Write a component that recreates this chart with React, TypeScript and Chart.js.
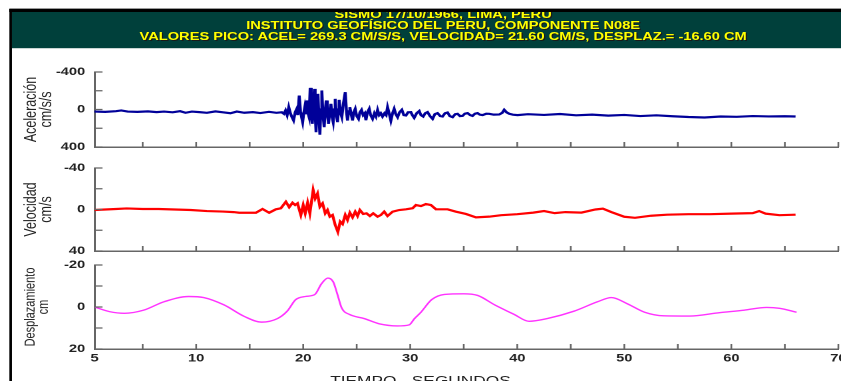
import React, { useEffect, useRef } from 'react';
import { Chart, registerables } from 'chart.js';

Chart.register(...registerables);

// ---------- text ----------
const HEADER_LINES = [
  'SISMO 17/10/1966, LIMA, PERU',
  'INSTITUTO GEOFÍSICO DEL PERU, COMPONENTE N08E',
  'VALORES PICO: ACEL= 269.3 CM/S/S, VELOCIDAD= 21.60 CM/S, DESPLAZ.= -16.60 CM',
];
const X_TITLE = 'TIEMPO - SEGUNDOS';
const ACC_TITLE = ['Aceleración', 'cm/s/s'];
const VEL_TITLE = ['Velocidad', 'cm/s'];
const DISP_TITLE = ['Desplazamiento', 'cm'];

// ---------- axes ----------
const X_MIN = 0.5;
const X_MAX = 70;
const X_TICK_VALUES = [0.5, 10, 20, 30, 40, 50, 60, 70];
const X_TICK_LABELS = ['5', '10', '20', '30', '40', '50', '60', '70'];
const X_MARKS = [5, 10, 15, 20, 25, 30, 35, 40, 45, 50, 55, 60, 65, 70];

const ACC_LABELS = [-400, 0, 400];
const ACC_MARKS = [-400, -200, 0, 200, 400];
const VEL_LABELS = [-40, 0, 40];
const VEL_MARKS = [-40, -20, 0, 20, 40];
const DISP_LABELS = [-20, 0, 20];
const DISP_MARKS = [-20, -10, 0, 10, 20];

// ---------- data (time in s) ----------
const accT = [
  0.5, 1.5, 2.5, 3.0, 3.6, 4.5, 5.5, 6.3, 7.0, 7.8, 8.5, 9.0, 9.6, 10.3, 11.0, 11.8, 12.5, 13.2, 13.8, 14.5,
  15.3, 16.0, 16.8, 17.5, 18.0,
  18.2, 18.35, 18.5, 18.65, 18.8, 18.95, 19.1, 19.25, 19.4, 19.5, 19.63, 19.75, 19.85, 19.95, 20.05, 20.15,
  20.25, 20.35, 20.45, 20.55, 20.65, 20.75, 20.85, 20.95, 21.05, 21.12, 21.2, 21.3, 21.38, 21.47, 21.56,
  21.65, 21.74, 21.85, 21.96, 22.05, 22.15, 22.25, 22.37, 22.48, 22.59, 22.7, 22.8, 22.9, 22.99, 23.1,
  23.21, 23.3, 23.36, 23.5, 23.61, 23.75, 23.93, 24.05, 24.14, 24.25, 24.36, 24.5, 24.61, 24.72, 24.86,
  25.0, 25.17, 25.3, 25.45, 25.6, 25.75, 25.86, 26.0,
  26.17, 26.3, 26.48, 26.65, 26.8, 26.95, 27.1, 27.25, 27.41, 27.6, 27.75, 27.88, 28.05, 28.19, 28.35,
  28.5, 28.65, 28.82, 29.0, 29.22, 29.4, 29.6, 29.8, 30.06, 30.2, 30.37, 30.6, 30.84, 31.0, 31.21, 31.4,
  31.62, 31.85, 32.09, 32.3, 32.55, 32.8, 33.02, 33.25, 33.49, 33.7, 33.96, 34.2, 34.42, 34.65, 34.89,
  35.1, 35.36, 35.6, 35.82, 36.05, 36.29, 36.5, 36.76, 37.1, 37.38, 37.8, 38.32, 38.6, 38.78, 39.0, 39.25,
  39.6, 40.03,
  41.0, 42.5, 44.0, 45.5, 47.0, 48.5, 50.0, 51.5, 53.0, 54.5, 56.0, 57.5, 59.0, 60.5, 62.0, 63.5, 65.0, 66.0,
];
const accV = [
  22, 25, 18, 10, 22, 25, 20, 28, 22, 30, 18, 35, 22, 28, 35, 20, 30, 40, 22, 35,
  28, 38, 25, 35, 30,
  46, 10, 60, -25, 40, 82, 117, 30, -7, 60, -149, 20, 82, 135, 40, -25,
  50, -96, 40, 82, -231, 20, 153, -60, -220, 50, 242, -40, -167, 80, 269,
  0, -203, 60, 189, 30, -96, 40, 153, 20, -60, 80, 135, 0, -114, 60,
  135, 0, -103, 40, 82, -60, -185, 30, 117, 20, -25, 60, 117, 30, -7,
  70, 100, 30, 5, 60, 40, 115, 30,
  -7, 60, 100, 40, 75, 3, 60, 40, 75, 40, 60, -25, 50, 120, 40,
  -7, 50, 82, 30, 3, 60, 64, 30, 28, 60, 89, 40, 17, 60, 75, 40,
  28, 70, 100, 50, 39, 70, 75, 40, 32, 70, 82, 50, 46, 70, 68,
  45, 39, 60, 68, 45, 39, 55, 60, 45, 46, 55, 53, 35, 3, 30, 46,
  55, 60,
  50, 58, 48, 62, 55, 65, 58, 70, 62, 72, 80, 85, 75, 78, 70, 74, 72, 75,
];

const velT = [
  0.5, 1.5, 2.5, 3.5, 5.0, 6.5, 8.0, 9.5, 11.0, 12.5, 13.5, 14.02, 15.58, 16.2, 16.82, 17.45, 17.91, 18.38,
  18.69, 19.0, 19.25, 19.47, 19.78, 20.0, 20.19, 20.41, 20.62, 20.93, 21.12, 21.34, 21.56, 21.81, 22.06,
  22.27, 22.49, 22.74, 22.99, 23.24, 23.46, 23.68, 23.93, 24.14, 24.36, 24.61, 24.86, 25.08, 25.3, 25.61,
  25.92, 26.23, 26.54, 26.95, 27.26, 27.57, 27.88, 28.35, 28.97, 29.6, 30.22, 30.53, 31.0, 31.46, 31.93,
  32.4, 32.87, 33.49, 34.27, 35.2, 36.14, 37.38, 38.5, 40.0, 41.5, 42.5, 43.5, 44.5, 46.0, 47.3, 48.0,
  48.8, 50.0, 51.0, 52.5, 54.0, 56.0, 58.0, 60.0, 62.0, 62.6, 63.2, 64.5, 66.0,
];
const velV = [
  0.5, 0, -0.5, -1, -0.5, -0.5, 0, 0.5, 1.5, 2, 2.5, 3.1, 3.1, -0.5, 3.1, -0.2, -1.2, -7.5,
  -2.2, -6.5, -4.3, -5.9, 5.3, -4.3, 3.7, -6.5, 3.7, -18.8, -10.6, -15.4, -2.6, -5.9, 3.7,
  0.5, 6.9, 5.3, 14.9, 21.6, 11.7, 14, 5.3, 10.1, 3.1, 7.6, 2.1, 6.3, 0.5, 4.3,
  3.7, 6.3, 3.7, 6.9, 5.3, 2.1, 6.3, 2.1, 0.5, -0.2, -1.2, -4.3, -3.3, -5.2, -4.3,
  -0.2, -0.2, -0.2, 2.1, 4.3, 7.6, 6.9, 5.5, 4.5, 3, 1.5, 3.5, 2.5, 3, 0, -0.8,
  2.5, 7, 8, 6, 5, 4.5, 4.5, 4, 3.5, 1.5, 4, 5.5, 5,
];

const dispT = [
  0.5, 1.9, 3.3, 5.1, 7.0, 9.3, 10.7, 12.6, 14.5, 16.1, 17.6, 18.5, 19.3, 20.2, 21.1, 21.7, 22.3, 22.8,
  23.2, 23.6, 24.3, 25.7, 27.1, 28.8, 29.9, 30.4, 31.0, 32.0, 33.2, 35.0, 36.3, 37.9, 39.7, 41.1, 42.8,
  45.3, 47.5, 48.8, 50.3, 51.9, 53.7, 56.1, 58.9, 61.2, 63.3, 64.5, 66.1,
];
const dispV = [
  0, 2.2, 3, 1.5, -2.5, -5, -4.5, -1, 4.5, 7.2, 5.5, 2, -3.5, -5, -6, -11, -13.8, -12,
  -6, 0.5, 3.5, 5.5, 8, 9, 8.5, 5.5, 2.5, -3.5, -6, -6.3, -5.5, -1, 3.5, 6.8, 5.5,
  2, -2.5, -4.5, -1.5, 2.5, 4.2, 4.3, 2.7, 1.5, 0.2, 0.6, 2.5,
];

// ---------- styling ----------
const S = 841 / 632; // horizontal stretch of the whole picture
const FONT = "'Liberation Sans', Arial, sans-serif";
const AXIS_COLOR = '#666';
const TEXT_COLOR = '#222';

const innerTicks = {
  id: 'innerTicks',
  afterDraw(chart: any, _args: any, opts: any) {
    const { ctx, chartArea, scales } = chart;
    ctx.save();
    ctx.strokeStyle = AXIS_COLOR;
    ctx.lineWidth = 1.3;
    ctx.beginPath();
    (opts.xMarks || []).forEach((v: number) => {
      const px = scales.x.getPixelForValue(v);
      ctx.moveTo(px, chartArea.bottom);
      ctx.lineTo(px, chartArea.bottom - 5);
    });
    (opts.yMarks || []).forEach((v: number) => {
      const py = scales.y.getPixelForValue(v);
      ctx.moveTo(chartArea.left, py);
      ctx.lineTo(chartArea.left + 6, py);
    });
    ctx.stroke();
    ctx.restore();
  },
};

type Panel = {
  t: number[];
  v: number[];
  color: string;
  lw: number;
  smooth: boolean;
  yMin: number;
  yMax: number;
  yLabels: number[];
  yMarks: number[];
  title: string[];
  titleSize: number;
  padTop: number;
  padBottom: number;
  showX: boolean;
};

function makeConfig(p: Panel): any {
  return {
    type: 'line',
    data: {
      datasets: [
        {
          data: p.t.map((t, i) => ({ x: t, y: p.v[i] })),
          borderColor: p.color,
          borderWidth: p.lw,
          pointRadius: 0,
          tension: p.smooth ? 0.4 : 0,
          cubicInterpolationMode: p.smooth ? 'monotone' : 'default',
          fill: false,
        },
      ],
    },
    options: {
      responsive: false,
      animation: false,
      devicePixelRatio: 2,
      events: [],
      layout: { padding: { top: p.padTop, bottom: p.padBottom, left: 0, right: 2 } },
      plugins: {
        legend: { display: false },
        tooltip: { enabled: false },
        innerTicks: { xMarks: X_MARKS, yMarks: p.yMarks },
      },
      scales: {
        x: {
          type: 'linear',
          min: X_MIN,
          max: X_MAX,
          afterBuildTicks: (s: any) => {
            s.ticks = X_TICK_VALUES.map((v) => ({ value: v }));
          },
          afterFit: (s: any) => {
            s.height = p.showX ? 42 : 0;
            s.paddingLeft = 0;
            s.paddingRight = 0;
          },
          ticks: {
            display: p.showX,
            autoSkip: false,
            maxRotation: 0,
            padding: 3,
            color: TEXT_COLOR,
            font: { family: FONT, size: 11, weight: 'bold' },
            callback: (_v: any, i: number) => X_TICK_LABELS[i],
          },
          grid: { display: false, drawTicks: false },
          border: { display: true, color: AXIS_COLOR, width: 1.5 },
        },
        y: {
          type: 'linear',
          reverse: true,
          min: p.yMin,
          max: p.yMax,
          afterBuildTicks: (s: any) => {
            s.ticks = p.yLabels.map((v) => ({ value: v }));
          },
          afterFit: (s: any) => {
            s.width = 62;
            s.paddingTop = 0;
            s.paddingBottom = 0;
          },
          ticks: {
            padding: 7,
            color: TEXT_COLOR,
            font: { family: FONT, size: 11, weight: 'bold' },
            callback: (v: any) => String(v),
          },
          grid: { display: false, drawTicks: false },
          border: { display: true, color: AXIS_COLOR, width: 1.5 },
          title: {
            display: true,
            text: p.title,
            color: TEXT_COLOR,
            font: { family: FONT, size: p.titleSize, lineHeight: 0.9 },
            padding: { top: 9, bottom: 0 },
          },
        },
      },
    },
    plugins: [innerTicks],
  };
}

const PANELS: { top: number; height: number; panel: Panel }[] = [
  {
    top: 60,
    height: 100,
    panel: {
      t: accT, v: accV, color: '#000099', lw: 2.2, smooth: false,
      yMin: -400, yMax: 400, yLabels: ACC_LABELS, yMarks: ACC_MARKS,
      title: ACC_TITLE, titleSize: 12.5, padTop: 12, padBottom: 13, showX: false,
    },
  },
  {
    top: 160,
    height: 100,
    panel: {
      t: velT, v: velV, color: '#FF0000', lw: 2.2, smooth: false,
      yMin: -40, yMax: 40, yLabels: VEL_LABELS, yMarks: VEL_MARKS,
      title: VEL_TITLE, titleSize: 12.5, padTop: 8, padBottom: 9, showX: false,
    },
  },
  {
    top: 258,
    height: 133,
    panel: {
      t: dispT, v: dispV, color: '#FF33FF', lw: 1.4, smooth: true,
      yMin: -20, yMax: 20, yLabels: DISP_LABELS, yMarks: DISP_MARKS,
      title: DISP_TITLE, titleSize: 11, padTop: 7, padBottom: 0, showX: true,
    },
  },
];

function PanelChart({ top, height, panel }: { top: number; height: number; panel: Panel }) {
  const ref = useRef<HTMLCanvasElement | null>(null);
  useEffect(() => {
    if (!ref.current) return;
    const chart = new Chart(ref.current, makeConfig(panel));
    return () => chart.destroy();
  }, []);
  return (
    <canvas
      ref={ref}
      width={623}
      height={height}
      style={{ position: 'absolute', left: 9, top }}
    />
  );
}

export default function App() {
  return (
    <div
      style={{
        position: 'absolute',
        left: 0,
        top: 0,
        width: 841,
        height: 381,
        overflow: 'hidden',
        background: '#fff',
      }}
    >
      <div
        style={{
          position: 'absolute',
          left: 0,
          top: 0,
          width: 632,
          height: 381,
          transform: `scaleX(${S})`,
          transformOrigin: '0 0',
        }}
      >
        {/* header band */}
        <div style={{ position: 'absolute', left: 9, top: 12, width: 623, height: 36, background: '#00403B' }} />
        <div style={{ position: 'absolute', left: 9, top: 48, width: 623, height: 1, background: '#c9d6d4' }} />
        <div
          style={{
            position: 'absolute',
            left: 0,
            top: 8.5,
            width: 666,
            textAlign: 'center',
            fontFamily: FONT,
            fontWeight: 'bold',
            fontSize: 11,
            lineHeight: '11px',
            color: '#FFFF00',
            textShadow: '1px 1px 0 #1a1a1a',
            whiteSpace: 'nowrap',
          }}
        >
          {HEADER_LINES.map((l) => (
            <div key={l}>{l}</div>
          ))}
        </div>
        {/* borders */}
        <div style={{ position: 'absolute', left: 6.8, top: 8, width: 626, height: 1, background: '#9a9a9a' }} />
        <div style={{ position: 'absolute', left: 6.8, top: 9, width: 626, height: 3, background: '#000' }} />
        <div style={{ position: 'absolute', left: 6.8, top: 9, width: 2.3, height: 372, background: '#000' }} />

        {PANELS.map((p, i) => (
          <PanelChart key={i} top={p.top} height={p.height} panel={p.panel} />
        ))}

        <div
          style={{
            position: 'absolute',
            left: 216,
            top: 374.3,
            width: 200,
            textAlign: 'center',
            fontFamily: FONT,
            fontSize: 13,
            lineHeight: '13px',
            color: TEXT_COLOR,
            whiteSpace: 'nowrap',
          }}
        >
          {X_TITLE}
        </div>
      </div>
    </div>
  );
}
